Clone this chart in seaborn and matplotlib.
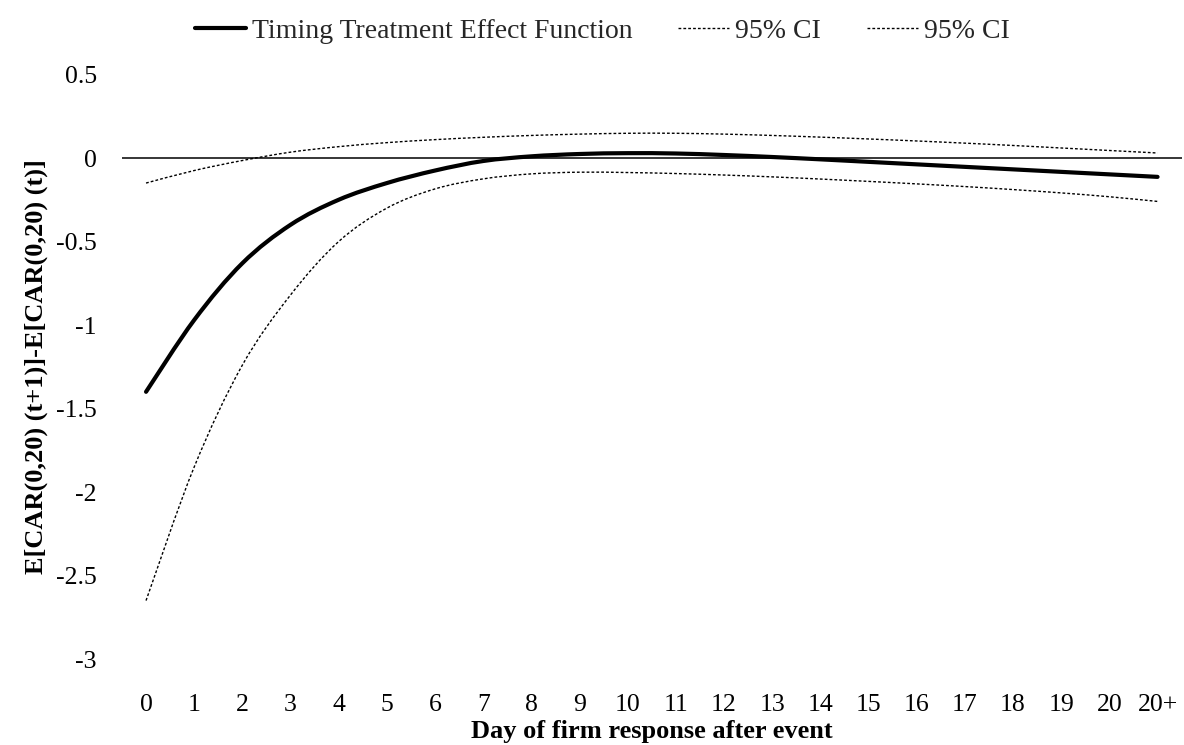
import numpy as np
import pandas as pd
import matplotlib
matplotlib.use("Agg")
import matplotlib.pyplot as plt
from matplotlib.path import Path
from matplotlib.patches import PathPatch
import seaborn as sns

days = [str(i) for i in range(21)] + ["20+"]
effect = [-1.40, -0.97, -0.63, -0.40, -0.25, -0.15, -0.075, -0.018, 0.01, 0.024, 0.029,
          0.027, 0.018, 0.006, -0.008, -0.023, -0.038, -0.053, -0.068, -0.083, -0.098, -0.113]
ci_upper = [-0.15, -0.075, -0.015, 0.035, 0.068, 0.092, 0.11, 0.124, 0.135, 0.143, 0.148,
            0.148, 0.143, 0.135, 0.125, 0.114, 0.102, 0.089, 0.075, 0.06, 0.045, 0.03]
ci_lower = [-2.65, -1.85, -1.24, -0.82, -0.50, -0.30, -0.185, -0.125, -0.095, -0.085, -0.087,
            -0.093, -0.102, -0.113, -0.126, -0.14, -0.155, -0.171, -0.189, -0.209, -0.232, -0.26]
yticks = [0.5, 0, -0.5, -1, -1.5, -2, -2.5, -3]
ytick_labels = ["0.5", "0", "-0.5", "-1", "-1.5", "-2", "-2.5", "-3"]

sns.set_theme(style="white")
plt.rcParams["font.family"] = ["Liberation Serif", "DejaVu Serif"]
TICK_FS = 18.5
LABEL_FS = 19
LEG_FS = 20

fig, ax = plt.subplots(figsize=(11.84, 7.45), dpi=100)
fig.subplots_adjust(left=0.103, right=0.998, top=0.900, bottom=0.1154)

df = pd.DataFrame({"x": np.arange(len(days)), "effect": effect,
                   "upper": ci_upper, "lower": ci_lower})

ax.axhline(0, color="black", lw=1.1, zorder=1)
sns.lineplot(data=df, x="x", y="effect", ax=ax, color="black", lw=3,
             label="Timing Treatment Effect Function", zorder=3)
sns.lineplot(data=df, x="x", y="upper", ax=ax, color="black", lw=1,
             linestyle=(0, (2, 1.5)), label="95% CI", zorder=2)
sns.lineplot(data=df, x="x", y="lower", ax=ax, color="black", lw=1,
             linestyle=(0, (2, 1.5)), label="95% CI", zorder=2)

handles, labels = ax.get_legend_handles_labels()
ax.get_legend().remove()
fig.legend(handles, labels, loc="center", bbox_to_anchor=(602 / 1184, 1 - 31 / 745), ncol=3,
           frameon=False, fontsize=LEG_FS, handlelength=1.85, handletextpad=0.2,
           columnspacing=1.65)


def smooth_path(xy):
    """Excel-like smoothed line: Catmull-Rom spline rendered as cubic Bezier."""
    p = np.asarray(xy, dtype=float)
    ext = np.vstack([p[0], p, p[-1]])
    verts = [p[0]]
    codes = [Path.MOVETO]
    for i in range(len(p) - 1):
        p0, p1, p2, p3 = ext[i], ext[i + 1], ext[i + 2], ext[i + 3]
        c1 = p1 + (p2 - p0) / 6.0
        c2 = p2 - (p3 - p1) / 6.0
        verts += [c1, c2, p2]
        codes += [Path.CURVE4] * 3
    return Path(verts, codes)


# Replace seaborn's straight polylines with smoothed curves through the same points
for line in list(ax.lines):
    if len(line.get_xdata()) < 3:
        continue
    thick = line.get_linewidth() > 2
    patch = PathPatch(smooth_path(line.get_xydata()), facecolor="none",
                      edgecolor=line.get_color(), lw=line.get_linewidth(),
                      linestyle="-" if thick else (0, (2, 1.5)),
                      capstyle="round" if thick else "butt",
                      transform=ax.transData, zorder=line.get_zorder())
    ax.add_patch(patch)
    line.set_visible(False)

ax.set_xlim(-0.5, len(days) - 0.5)
ax.set_ylim(-3, 0.5)
ax.set_xticks(np.arange(len(days)))
ax.set_xticklabels(days)
ax.set_yticks(yticks)
ax.set_yticklabels(ytick_labels)
ax.tick_params(axis="both", length=0, labelsize=TICK_FS, colors="black")
ax.tick_params(axis="x", pad=25)
ax.tick_params(axis="y", pad=18)
for s in ax.spines.values():
    s.set_visible(False)

ax.set_xlabel("Day of firm response after event", fontsize=LABEL_FS, fontweight="bold",
              color="black", labelpad=3)
ax.set_ylabel("E[CAR(0,20) (t+1)]-E[CAR(0,20) (t)]", fontsize=LABEL_FS, fontweight="bold",
              color="black", labelpad=6)

fig.savefig("out.png", dpi=100, facecolor="white")
